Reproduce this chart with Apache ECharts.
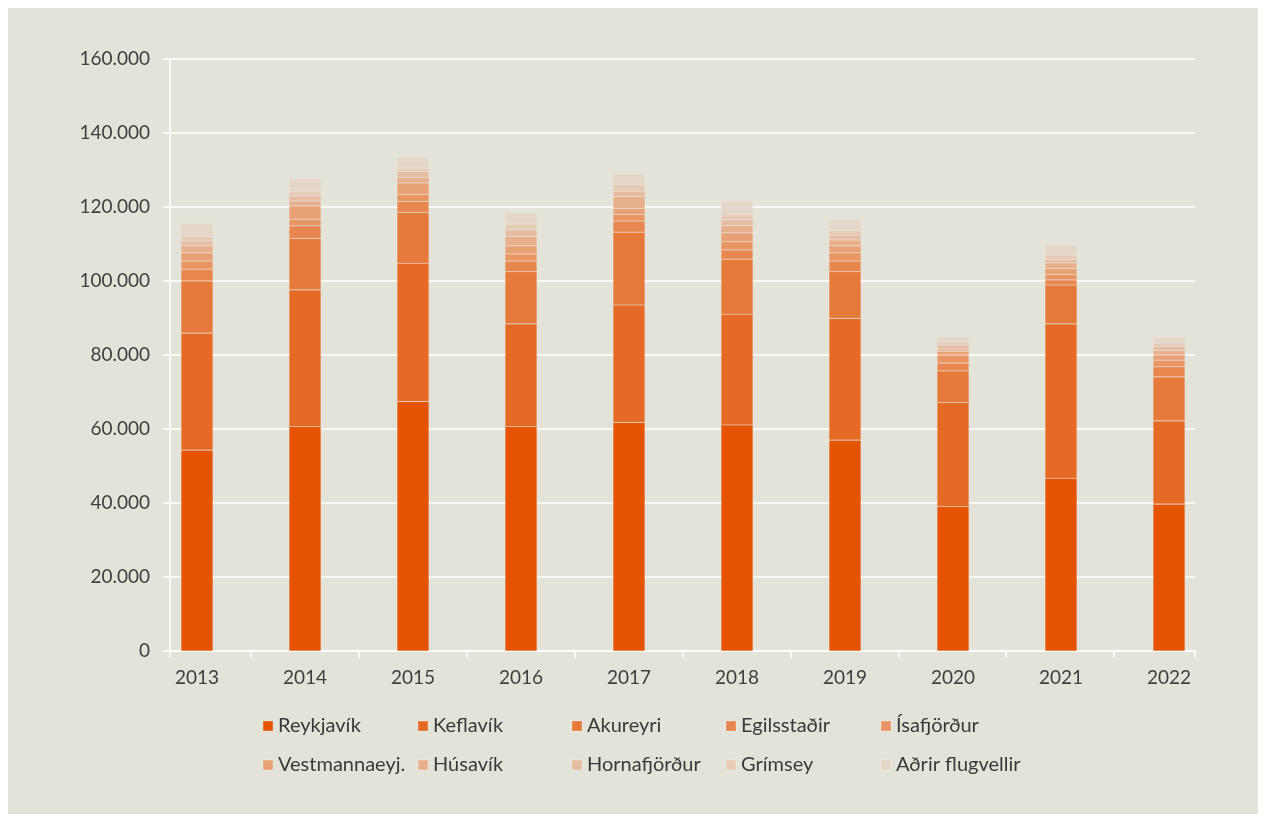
<!DOCTYPE html>
<html>
<head>
<meta charset="utf-8">
<script src="https://cdn.jsdelivr.net/npm/echarts@6/dist/echarts.min.js"></script>
<style>
html,body{margin:0;padding:0;background:#ffffff;}
#c{position:absolute;left:8px;top:8px;width:1250px;height:806px;background:#E4E3DA;}
</style>
</head>
<body>
<div id="c"></div>
<script>
const years = ['2013','2014','2015','2016','2017','2018','2019','2020','2021','2022'];
const seriesNames = ['Reykjavík','Keflavík','Akureyri','Egilsstaðir','Ísafjörður','Vestmannaeyj.','Húsavík','Hornafjörður','Grímsey','Aðrir flugvellir'];
const reykjavik   = [54300, 60600, 67400, 60600, 61800, 61100, 57000, 39000, 46700, 39700];
const keflavik    = [31600, 37000, 37400, 27800, 31700, 29900, 32900, 28100, 41700, 22500];
const akureyri    = [14100, 13900, 13700, 14100, 19700, 14900, 12600, 8600, 10500, 11900];
const egilsstadir = [3200, 3400, 3000, 2900, 3000, 2500, 2900, 2100, 1400, 2700];
const isafjordur  = [2200, 1800, 1900, 1900, 1800, 2200, 2200, 2200, 1500, 1800];
const vestmannaeyjar = [2200, 3600, 3100, 2200, 1600, 2400, 1900, 1000, 1600, 1400];
const husavik     = [1900, 1300, 1500, 2500, 3200, 2000, 1600, 600, 1500, 1200];
const hornafjordur = [1300, 1400, 1600, 1800, 1500, 1500, 1300, 1100, 1000, 1200];
const grimsey     = [1200, 1100, 900, 1600, 1800, 1500, 1200, 800, 1100, 800];
const adrir       = [3600, 3500, 2900, 3100, 2800, 3600, 3100, 1300, 2700, 1600];
const yTicks = [0, 20000, 40000, 60000, 80000, 100000, 120000, 140000, 160000];

const values = [reykjavik, keflavik, akureyri, egilsstadir, isafjordur, vestmannaeyjar, husavik, hornafjordur, grimsey, adrir];
const colors = ['#E45402','#E56A25','#E67A3B','#E7874F','#E79562','#E7A174','#E7AF8C','#E6BDA2','#E5CAB6','#E4D6C8'];
const font = 'Lato, "Open Sans", sans-serif';

// tick marks between year categories (in category units)
const boundaryTicks = [-0.25];
for (let i = 0; i < years.length - 1; i++) boundaryTicks.push(i + 0.5);
boundaryTicks.push(years.length - 0.75);

const legendCols = [249, 404, 558, 712, 867];
const legendRows = [701, 740];
const legends = seriesNames.map((n, i) => ({
  left: legendCols[i % 5], top: legendRows[Math.floor(i / 5)],
  orient: 'horizontal',
  itemWidth: 10, itemHeight: 10, itemGap: 0,
  icon: 'rect',
  textStyle: {color: '#3a3a3a', fontSize: 20, lineHeight: 24, fontFamily: font},
  data: [n]
}));

const chart = echarts.init(document.getElementById('c'));
chart.setOption({
  backgroundColor: '#E4E3DA',
  animation: false,
  textStyle: {fontFamily: font},
  grid: [
    {left: 162, top: 51, width: 1025, height: 592, containLabel: false},
    {left: 135, top: 51, width: 1080, height: 592, containLabel: false}
  ],
  xAxis: [
    {
      type: 'value', gridIndex: 0,
      min: -0.25, max: years.length - 0.75,
      axisLine: {show: true, onZero: false, lineStyle: {color: '#ffffff', width: 1.5}},
      axisTick: {show: true, length: 7, customValues: boundaryTicks, lineStyle: {color: '#ffffff', width: 1.5}},
      axisLabel: {show: false},
      splitLine: {show: false}
    },
    {
      type: 'category', gridIndex: 1,
      data: years,
      axisLine: {show: false},
      axisTick: {show: false},
      axisLabel: {color: '#404040', fontSize: 19, margin: 17, fontFamily: font}
    }
  ],
  yAxis: [
    {
      type: 'value', gridIndex: 0,
      min: yTicks[0],
      max: yTicks[yTicks.length - 1],
      interval: yTicks[1] - yTicks[0],
      axisLine: {show: true, onZero: false, lineStyle: {color: '#ffffff', width: 1.5}},
      axisTick: {show: true, length: 7, lineStyle: {color: '#ffffff', width: 1.5}},
      splitLine: {show: true, lineStyle: {color: '#ffffff', width: 1.5}},
      axisLabel: {
        color: '#404040', fontSize: 19, margin: 20, fontFamily: font,
        formatter: v => v === 0 ? '0' : (v / 1000).toFixed(0) + '.000'
      }
    },
    {
      type: 'value', gridIndex: 1,
      min: yTicks[0],
      max: yTicks[yTicks.length - 1],
      interval: yTicks[1] - yTicks[0],
      show: false,
      splitLine: {show: false}
    }
  ],
  legend: legends,
  series: seriesNames.map((n, i) => ({
    name: n,
    type: 'bar',
    stack: 'total',
    xAxisIndex: 1,
    yAxisIndex: 1,
    barWidth: 32,
    data: values[i],
    itemStyle: {color: colors[i], borderColor: 'rgba(255,255,255,0.15)', borderWidth: 0.6}
  }))
});
</script>
</body>
</html>
